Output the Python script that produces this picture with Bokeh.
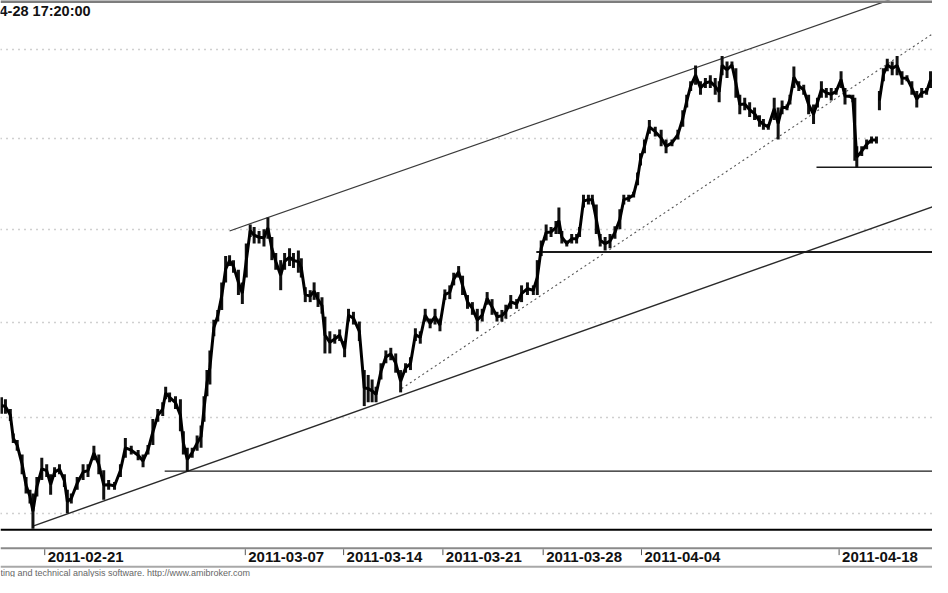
from bokeh.plotting import figure
from bokeh.models import Range1d, FixedTicker, LinearScale
from bokeh.core.properties import value
from bokeh.embed import file_html
from bokeh.resources import INLINE

# ---------------- data ----------------
# bar position (time index) and the high / low of the price band
bars_1 = [1, 5, 10, 13, 17, 22, 26, 30, 33, 37, 42, 47, 51, 55, 60, 65, 68, 72, 78, 84,
          89, 95, 100, 105, 110, 116, 122, 127, 133, 140, 145, 150, 155, 160, 165, 168, 172, 178, 183, 186,
          190, 195, 200, 204, 207, 210, 213, 217, 221, 225, 229, 233, 237, 242, 246, 250, 254, 258, 263, 268,
          272, 276, 280, 285, 289, 294, 298, 303, 306, 310, 315, 319, 323, 327, 330, 335, 340, 345, 350, 354,
          359, 365, 370, 374, 378, 382, 387, 392, 397, 402, 407, 412, 417, 422, 427, 432, 437, 442, 447, 452,
          457, 461, 466, 470, 475, 480, 485, 490, 495, 500, 505, 510, 514, 519, 525, 530, 536, 542, 546, 550,
          555, 560, 565, 568, 571, 576, 581, 586, 589, 593, 598, 602, 606, 610, 615, 620, 625, 630, 634, 639,
          644, 648, 651, 655, 660, 666, 672, 677, 683, 689, 694, 698, 702, 707, 712, 717, 722, 727, 731, 734,
          739, 744, 748, 752, 757, 762, 767, 772, 776, 781, 787, 791, 795, 800, 803, 807, 812, 817, 822, 827,
          831, 835, 840, 845, 850, 855, 859, 864, 867, 869, 871, 876, 881, 886, 891]
high_1 = [1.3802, 1.3797, 1.3771, 1.3707, 1.3690, 1.3652, 1.3594, 1.3561, 1.3551, 1.3594, 1.3644, 1.3627, 1.3601, 1.3619, 1.3627, 1.3601, 1.3561, 1.3551, 1.3594, 1.3627,
          1.3627, 1.3675, 1.3652, 1.3611, 1.3586, 1.3581, 1.3627, 1.3695, 1.3675, 1.3664, 1.3652, 1.3677, 1.3745, 1.3771, 1.3789, 1.3830, 1.3815, 1.3805, 1.3797, 1.3713,
          1.3670, 1.3670, 1.3702, 1.3728, 1.3805, 1.3874, 1.3926, 1.4008, 1.4034, 1.4108, 1.4179, 1.4181, 1.4168, 1.4142, 1.4108, 1.4213, 1.4265, 1.4258, 1.4247, 1.4252,
          1.4284, 1.4231, 1.4187, 1.4168, 1.4187, 1.4200, 1.4187, 1.4194, 1.4173, 1.4095, 1.4087, 1.4108, 1.4082, 1.4068, 1.4016, 1.3977, 1.3969, 1.3982, 1.3951, 1.4037,
          1.4029, 1.4003, 1.3874, 1.3861, 1.3849, 1.3830, 1.3892, 1.3926, 1.3933, 1.3918, 1.3874, 1.3892, 1.3908, 1.3985, 1.3977, 1.4037, 1.4011, 1.4037, 1.4011, 1.4089,
          1.4100, 1.4134, 1.4152, 1.4126, 1.4074, 1.4055, 1.4037, 1.4037, 1.4082, 1.4063, 1.4029, 1.4034, 1.4048, 1.4074, 1.4063, 1.4100, 1.4108, 1.4100, 1.4168, 1.4221,
          1.4265, 1.4258, 1.4274, 1.4311, 1.4247, 1.4221, 1.4239, 1.4239, 1.4258, 1.4346, 1.4346, 1.4346, 1.4319, 1.4239, 1.4231, 1.4239, 1.4260, 1.4306, 1.4346, 1.4346,
          1.4354, 1.4407, 1.4460, 1.4498, 1.4552, 1.4533, 1.4525, 1.4498, 1.4498, 1.4525, 1.4579, 1.4622, 1.4660, 1.4704, 1.4660, 1.4669, 1.4677, 1.4669, 1.4660, 1.4731,
          1.4715, 1.4715, 1.4696, 1.4622, 1.4614, 1.4601, 1.4587, 1.4565, 1.4555, 1.4541, 1.4614, 1.4587, 1.4606, 1.4595, 1.4622, 1.4701, 1.4660, 1.4650, 1.4622, 1.4595,
          1.4614, 1.4660, 1.4641, 1.4641, 1.4641, 1.4688, 1.4641, 1.4622, 1.4622, 1.4614, 1.4479, 1.4479, 1.4498, 1.4506, 1.4506]
low_1 = [1.3759, 1.3759, 1.3740, 1.3682, 1.3662, 1.3601, 1.3551, 1.3525, 1.3460, 1.3543, 1.3586, 1.3594, 1.3548, 1.3594, 1.3601, 1.3568, 1.3500, 1.3525, 1.3561, 1.3586,
         1.3594, 1.3637, 1.3601, 1.3535, 1.3561, 1.3561, 1.3594, 1.3644, 1.3652, 1.3637, 1.3619, 1.3652, 1.3677, 1.3738, 1.3753, 1.3797, 1.3789, 1.3771, 1.3713, 1.3652,
         1.3609, 1.3644, 1.3662, 1.3670, 1.3738, 1.3805, 1.3836, 1.3964, 1.4003, 1.4034, 1.4108, 1.4152, 1.4134, 1.4074, 1.4050, 1.4121, 1.4231, 1.4213, 1.4213, 1.4205,
         1.4226, 1.4168, 1.4142, 1.4087, 1.4142, 1.4152, 1.4147, 1.4134, 1.4121, 1.4055, 1.4055, 1.4061, 1.4042, 1.4024, 1.3918, 1.3918, 1.3944, 1.3951, 1.3908, 1.4003,
         1.3995, 1.3951, 1.3779, 1.3789, 1.3789, 1.3789, 1.3849, 1.3892, 1.3900, 1.3867, 1.3815, 1.3867, 1.3874, 1.3951, 1.3944, 1.4003, 1.3985, 1.3995, 1.3977, 1.4061,
         1.4063, 1.4100, 1.4121, 1.4074, 1.4037, 1.4021, 1.3977, 1.4003, 1.4048, 1.4021, 1.4003, 1.4003, 1.4011, 1.4037, 1.4037, 1.4055, 1.4074, 1.4074, 1.4074, 1.4179,
         1.4221, 1.4231, 1.4239, 1.4239, 1.4213, 1.4205, 1.4213, 1.4213, 1.4231, 1.4311, 1.4319, 1.4319, 1.4239, 1.4205, 1.4194, 1.4200, 1.4226, 1.4252, 1.4319, 1.4327,
         1.4338, 1.4372, 1.4426, 1.4460, 1.4514, 1.4506, 1.4479, 1.4460, 1.4479, 1.4498, 1.4533, 1.4587, 1.4633, 1.4650, 1.4622, 1.4641, 1.4641, 1.4622, 1.4601, 1.4677,
         1.4669, 1.4696, 1.4614, 1.4568, 1.4579, 1.4560, 1.4552, 1.4533, 1.4525, 1.4525, 1.4552, 1.4498, 1.4568, 1.4579, 1.4595, 1.4641, 1.4633, 1.4622, 1.4568, 1.4541,
         1.4587, 1.4614, 1.4614, 1.4606, 1.4622, 1.4641, 1.4595, 1.4614, 1.4601, 1.4439, 1.4420, 1.4452, 1.4471, 1.4487, 1.4487]

# second session (after the data gap)
bars_2 = [894, 898, 902, 907, 912, 917, 922, 927, 932, 937, 942, 946]
high_2 = [1.4633, 1.4696, 1.4723, 1.4715, 1.4731, 1.4688, 1.4677, 1.4660, 1.4633, 1.4641, 1.4641, 1.4688]
low_2 = [1.4579, 1.4660, 1.4688, 1.4677, 1.4677, 1.4650, 1.4660, 1.4622, 1.4587, 1.4614, 1.4622, 1.4641]

# price grid levels (log scale)
grid_levels = [1.350, 1.375, 1.400, 1.425, 1.450, 1.475]

# trend lines: anchor points (bar, price)
channel_top_bars = [233, 905]
channel_top_prices = [1.4247, 1.4890]
channel_bottom_bars = [33, 948]
channel_bottom_prices = [1.3467, 1.4313]
dotted_bars = [408, 948]
dotted_prices = [1.3825, 1.4793]

# horizontal support levels: start bar, price
level_start_bars = [167, 545, 830]
level_prices = [1.3609, 1.4190, 1.4421]
level_widths = [1.3, 2.0, 1.5]

# x-axis ticks
tick_bars = [45, 249, 349, 450, 552, 652, 853]
tick_labels = ["2011-02-21", "2011-03-07", "2011-03-14", "2011-03-21",
               "2011-03-28", "2011-04-04", "2011-04-18"]

title_text = "4-28 17:20:00"
footer_text = "ting and technical analysis software. http://www.amibroker.com"

# ---------------- figure ----------------
W, H = 932, 577
REF_W, REF_H = 948, 593
LAST_BAR = 948
P_BOTTOM, P_TOP = 1.33356, 1.48875

p = figure(width=W, height=H, x_range=Range1d(0, REF_W), y_range=Range1d(P_BOTTOM, P_TOP),
           y_axis_type="log", x_axis_location=None, y_axis_location=None,
           min_border=0, min_border_left=0, min_border_right=0, min_border_top=0, min_border_bottom=0,
           toolbar_location=None, output_backend="svg")
p.outline_line_color = None
p.background_fill_color = "white"
p.border_fill_color = "white"
p.extra_y_ranges = {"ref": Range1d(start=REF_H, end=0)}
p.extra_y_scales = {"ref": LinearScale()}

p.xgrid.grid_line_color = None
p.ygrid.ticker = FixedTicker(ticks=grid_levels)
p.ygrid.grid_line_color = "#a0a0a0"
p.ygrid.grid_line_dash = "1 5"
p.ygrid.grid_line_width = 1.3

# trend lines
p.line(channel_top_bars, channel_top_prices, line_color="#3a3a3a", line_width=1.2)
p.line(channel_bottom_bars, channel_bottom_prices, line_color="#2a2a2a", line_width=1.4)
p.line(dotted_bars, dotted_prices, line_color="#555555", line_width=1.1, line_dash="2 3")
p.segment(x0=level_start_bars, x1=[LAST_BAR] * len(level_start_bars),
          y0=level_prices, y1=level_prices, line_color="#1a1a1a", line_width=level_widths)

# price bars
for bars, highs, lows in ((bars_1, high_1, low_1), (bars_2, high_2, low_2)):
    mids = [(h + l) / 2 for h, l in zip(highs, lows)]
    p.segment(x0=bars, x1=bars, y0=lows, y1=highs, line_color="#111111", line_width=3)
    p.line(bars, mids, line_color="#000000", line_width=3)

# frame decorations (reference pixel coordinates)
p.segment(x0=[0], x1=[REF_W], y0=[1], y1=[1], line_color="#7d7d7d", line_width=3, y_range_name="ref")
p.segment(x0=[0], x1=[REF_W], y0=[544], y1=[544], line_color="#000000", line_width=2, y_range_name="ref")
p.segment(x0=[0, 0], x1=[REF_W, REF_W], y0=[563, 582], y1=[563, 582],
          line_color=["#8a8a8a", "#a8a8a8"], line_width=2, y_range_name="ref")
p.segment(x0=tick_bars, x1=tick_bars, y0=[564] * len(tick_bars), y1=[570] * len(tick_bars),
          line_color="#555555", line_width=1, y_range_name="ref")
p.text(x=[t + 3 for t in tick_bars], y=[571.5] * len(tick_bars), text=tick_labels,
       y_range_name="ref", text_font=value("Liberation Sans"), text_font_style="bold",
       text_font_size="15px", text_color="#111111", text_align="left", text_baseline="middle")
p.text(x=[-1], y=[10.5], text=[title_text], y_range_name="ref",
       text_font=value("Liberation Sans"), text_font_style="bold", text_font_size="14.5px",
       text_color="#111111", text_align="left", text_baseline="middle")
p.text(x=[0], y=[588], text=[footer_text], y_range_name="ref",
       text_font=value("Liberation Sans"), text_font_size="9px",
       text_color="#666666", text_align="left", text_baseline="middle")

open("out.html", "w").write(file_html(p, INLINE))
